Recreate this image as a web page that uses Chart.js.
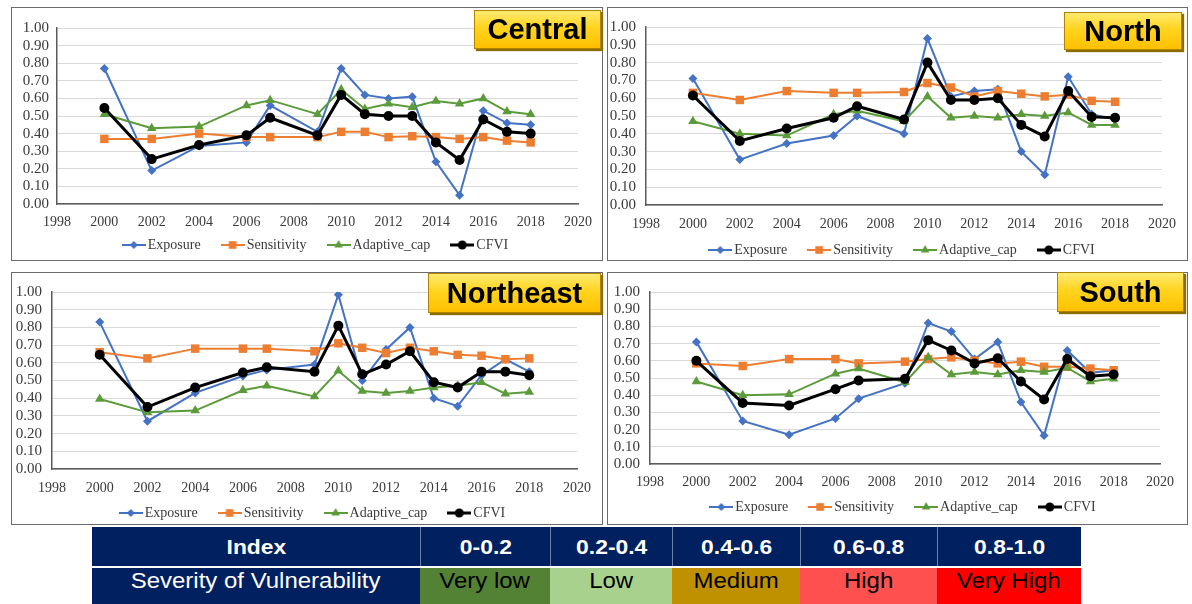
<!DOCTYPE html>
<html>
<head>
<meta charset="utf-8">
<script src="https://cdn.jsdelivr.net/npm/chart.js@4/dist/chart.umd.min.js"></script>
<style>
html,body{margin:0;padding:0;background:#fff;width:1192px;height:604px;overflow:hidden;position:relative;font-family:"Liberation Sans",Arial,sans-serif;}
.panel{position:absolute;border:1px solid #6b6b6b;box-sizing:border-box;}
canvas{position:absolute;}
.tag{position:absolute;box-sizing:border-box;border:1px solid #b08400;background:linear-gradient(#ffea70,#ffd41f 45%,#ffc000);box-shadow:2px 2px 1px #8d6c00;font:bold 29px "Liberation Sans",Arial,sans-serif;color:#000;display:flex;align-items:center;justify-content:center;}
.cell{position:absolute;box-sizing:border-box;display:flex;align-items:center;justify-content:center;white-space:nowrap;}
.cell span{display:inline-block;transform:scaleX(1.09);}
.hd{background:#002060;color:#fff;font:bold 21px "Liberation Sans",Arial,sans-serif;}
.r2{font:22px "Liberation Sans",Arial,sans-serif;color:#000;padding-bottom:10px;}
</style>
</head>
<body>
<div class="panel" style="left:11px;top:7px;width:592px;height:254px"></div>
<div class="panel" style="left:607px;top:7px;width:581px;height:254px"></div>
<div class="panel" style="left:11px;top:272px;width:592px;height:253px"></div>
<div class="panel" style="left:607px;top:272px;width:581px;height:253px"></div>
<canvas id="cCentral"></canvas>
<canvas id="cNorth"></canvas>
<canvas id="cNortheast"></canvas>
<canvas id="cSouth"></canvas>
<div class="tag" style="left:474px;top:10px;width:127px;height:39px">Central</div>
<div class="tag" style="left:1064px;top:12px;width:118px;height:38px">North</div>
<div class="tag" style="left:428px;top:273px;width:173px;height:40px">Northeast</div>
<div class="tag" style="left:1057px;top:272px;width:127px;height:40px">South</div>
<div id="tbl"></div>
<script>
// ---------------- data ----------------
const years = [2000, 2002, 2004, 2006, 2007, 2009, 2010, 2011, 2012, 2013, 2014, 2015, 2016, 2017, 2018];
const seriesNames = ['Exposure', 'Sensitivity', 'Adaptive_cap', 'CFVI'];
const xTickLabels = [1998, 2000, 2002, 2004, 2006, 2008, 2010, 2012, 2014, 2016, 2018, 2020];
const yTickLabels = ['0.00','0.10','0.20','0.30','0.40','0.50','0.60','0.70','0.80','0.90','1.00'];

const centralExposure    = [0.77, 0.19, 0.33, 0.35, 0.56, 0.41, 0.77, 0.62, 0.60, 0.61, 0.24, 0.05, 0.53, 0.46, 0.45];
const centralSensitivity = [0.37, 0.37, 0.40, 0.38, 0.38, 0.38, 0.41, 0.41, 0.38, 0.385, 0.38, 0.37, 0.38, 0.36, 0.35];
const centralAdaptive    = [0.51, 0.43, 0.44, 0.56, 0.59, 0.51, 0.65, 0.54, 0.57, 0.55, 0.585, 0.57, 0.60, 0.525, 0.51];
const centralCFVI        = [0.545, 0.255, 0.335, 0.39, 0.49, 0.39, 0.62, 0.51, 0.50, 0.50, 0.35, 0.25, 0.48, 0.41, 0.40];

const northExposure    = [0.71, 0.255, 0.345, 0.39, 0.50, 0.40, 0.935, 0.61, 0.64, 0.65, 0.30, 0.17, 0.72, 0.51, 0.48];
const northSensitivity = [0.63, 0.59, 0.64, 0.63, 0.63, 0.635, 0.685, 0.66, 0.61, 0.64, 0.625, 0.61, 0.62, 0.585, 0.58];
const northAdaptive    = [0.47, 0.40, 0.39, 0.51, 0.53, 0.47, 0.61, 0.49, 0.50, 0.49, 0.51, 0.50, 0.52, 0.45, 0.45];
const northCFVI        = [0.615, 0.36, 0.43, 0.49, 0.555, 0.48, 0.80, 0.59, 0.59, 0.60, 0.45, 0.385, 0.64, 0.495, 0.49];

const northeastExposure    = [0.83, 0.27, 0.43, 0.525, 0.56, 0.59, 0.985, 0.50, 0.675, 0.80, 0.40, 0.355, 0.53, 0.62, 0.55];
const northeastSensitivity = [0.66, 0.625, 0.68, 0.68, 0.68, 0.665, 0.71, 0.685, 0.655, 0.685, 0.665, 0.645, 0.64, 0.62, 0.625];
const northeastAdaptive    = [0.395, 0.32, 0.33, 0.445, 0.47, 0.41, 0.555, 0.44, 0.43, 0.44, 0.46, 0.47, 0.49, 0.425, 0.435];
const northeastCFVI        = [0.645, 0.35, 0.46, 0.545, 0.575, 0.55, 0.81, 0.535, 0.59, 0.665, 0.49, 0.46, 0.55, 0.55, 0.53];

const southExposure    = [0.71, 0.25, 0.17, 0.265, 0.38, 0.47, 0.82, 0.77, 0.61, 0.71, 0.36, 0.165, 0.66, 0.53, 0.545];
const southSensitivity = [0.585, 0.57, 0.61, 0.61, 0.585, 0.595, 0.61, 0.62, 0.60, 0.585, 0.595, 0.565, 0.565, 0.555, 0.545];
const southAdaptive    = [0.48, 0.40, 0.405, 0.525, 0.555, 0.475, 0.62, 0.52, 0.535, 0.52, 0.545, 0.535, 0.56, 0.48, 0.495];
const southCFVI        = [0.60, 0.355, 0.34, 0.435, 0.485, 0.495, 0.72, 0.66, 0.585, 0.615, 0.48, 0.375, 0.61, 0.51, 0.52];

const tableHeader = ['Index', '0-0.2', '0.2-0.4', '0.4-0.6', '0.6-0.8', '0.8-1.0'];
const tableRow    = ['Severity of Vulnerability', 'Very low', 'Low', 'Medium', 'High', 'Very High'];

// ---------------- styles ----------------
const seriesColors = ['#4472C4', '#ED7D31', '#5B9B3A', '#000000'];
const seriesMarkers = ['rectRot', 'rect', 'triangle', 'circle'];
const markerRadius = [4.5, 6, 5.5, 5];
const lineWidths = [2, 2, 2, 3];
const textColor = '#3a3a3a';
const serif = '"Liberation Serif", "Times New Roman", serif';

function makeIcon(i) {
  const c = document.createElement('canvas');
  c.width = 24; c.height = 12;
  const g = c.getContext('2d');
  g.strokeStyle = seriesColors[i];
  g.fillStyle = seriesColors[i];
  g.lineWidth = lineWidths[i];
  g.beginPath(); g.moveTo(0, 6); g.lineTo(24, 6); g.stroke();
  const cx = 12, cy = 6, r = markerRadius[i] * 0.9;
  g.beginPath();
  if (seriesMarkers[i] === 'rectRot') {
    g.moveTo(cx, cy - r); g.lineTo(cx + r, cy); g.lineTo(cx, cy + r); g.lineTo(cx - r, cy); g.closePath();
  } else if (seriesMarkers[i] === 'rect') {
    const s = r * Math.SQRT1_2; g.rect(cx - s, cy - s, 2 * s, 2 * s);
  } else if (seriesMarkers[i] === 'triangle') {
    g.moveTo(cx, cy - r); g.lineTo(cx + r * 0.87, cy + r * 0.5); g.lineTo(cx - r * 0.87, cy + r * 0.5); g.closePath();
  } else {
    g.arc(cx, cy, r, 0, Math.PI * 2);
  }
  g.fill();
  return c;
}
const icons = [0, 1, 2, 3].map(makeIcon);

// ---------------- geometry (layout only) ----------------
const panels = [
  { id: 'cCentral', series: [centralExposure, centralSensitivity, centralAdaptive, centralCFVI],
    cx: 12, cy: 8, cw: 590, areaLeft: 57, areaRight: 582, areaTop: 28, areaBottom: 204, xLabelY: 221, legendY: 245, yPad: 8 },
  { id: 'cNorth', series: [northExposure, northSensitivity, northAdaptive, northCFVI],
    cx: 608, cy: 8, cw: 579, areaLeft: 646, areaRight: 1165, areaTop: 18, areaBottom: 205, xLabelY: 223, legendY: 250, yPad: 10 },
  { id: 'cNortheast', series: [northeastExposure, northeastSensitivity, northeastAdaptive, northeastCFVI],
    cx: 12, cy: 273, cw: 590, areaLeft: 52, areaRight: 578, areaTop: 288, areaBottom: 469, xLabelY: 487, legendY: 513, yPad: 10 },
  { id: 'cSouth', series: [southExposure, southSensitivity, southAdaptive, southCFVI],
    cx: 608, cy: 273, cw: 579, areaLeft: 650, areaRight: 1160, areaTop: 286, areaBottom: 464, xLabelY: 481, legendY: 507, yPad: 10 }
];

const LEG_PAD = 25, FONT = 14, YFONT = 15;

panels.forEach(p => {
  const legendH = FONT + LEG_PAD + 10;
  const xHeight = p.xLabelY - p.areaBottom + 12;
  const ch = (p.areaBottom - p.cy) + xHeight + legendH;
  const canvas = document.getElementById(p.id);
  canvas.style.left = p.cx + 'px';
  canvas.style.top = p.cy + 'px';
  canvas.style.width = p.cw + 'px';
  canvas.style.height = ch + 'px';
  canvas.width = p.cw; canvas.height = ch;
  const yWidth = p.areaLeft - p.cx;
  const padRight = p.cx + p.cw - p.areaRight;
  const padTop = p.areaTop - p.cy;
  const legendTop = p.legendY - p.cy - (LEG_PAD + FONT / 2);

  const datasets = p.series.map((vals, i) => ({
    label: seriesNames[i],
    data: years.map((yr, k) => ({ x: yr, y: vals[k] })),
    borderColor: seriesColors[i],
    backgroundColor: seriesColors[i],
    pointBackgroundColor: seriesColors[i],
    pointBorderColor: seriesColors[i],
    pointStyle: seriesMarkers[i],
    pointRadius: markerRadius[i],
    pointBorderWidth: 0,
    borderWidth: lineWidths[i],
    tension: 0,
    order: 4 - i
  }));

  new Chart(canvas, {
    type: 'line',
    data: { datasets },
    plugins: [{
      id: 'legendPlace',
      beforeDraw(chart) {
        const lg = chart.legend;
        const h = lg.height;
        lg.top = legendTop;
        lg.bottom = legendTop + h;
      }
    }],
    options: {
      responsive: false,
      animation: false,
      devicePixelRatio: 1,
      layout: { padding: { left: 0, right: padRight, top: padTop, bottom: 0 } },
      plugins: {
        tooltip: { enabled: false },
        legend: {
          position: 'bottom',
          fullSize: false,
          align: 'center',
          labels: {
            usePointStyle: true,
            padding: LEG_PAD,
            color: textColor,
            font: { family: serif, size: FONT },
            sort: (a, b) => a.datasetIndex - b.datasetIndex,
            generateLabels(chart) {
              const items = Chart.defaults.plugins.legend.labels.generateLabels(chart);
              items.forEach(it => { it.pointStyle = icons[it.datasetIndex]; });
              return items;
            }
          }
        }
      },
      scales: {
        x: {
          type: 'linear',
          min: xTickLabels[0],
          max: xTickLabels[xTickLabels.length - 1],
          afterBuildTicks: s => { s.ticks = xTickLabels.map(v => ({ value: v })); },
          afterFit: s => { s.height = xHeight; },
          grid: { display: false, drawTicks: false },
          border: { display: true, color: '#5a5a5a', width: 1.5 },
          ticks: {
            padding: p.xLabelY - p.areaBottom - 7,
            color: textColor,
            font: { family: serif, size: FONT },
            maxRotation: 0, autoSkip: false,
            callback: v => String(v)
          }
        },
        y: {
          min: 0, max: 1,
          afterBuildTicks: s => { s.ticks = yTickLabels.map(t => ({ value: parseFloat(t) })); },
          afterFit: s => { s.width = yWidth; },
          grid: { color: '#d9d9d9', lineWidth: 1, drawTicks: false },
          border: { display: true, color: '#5a5a5a', width: 1.5 },
          ticks: {
            padding: p.yPad,
            color: textColor,
            font: { family: serif, size: YFONT },
            autoSkip: false,
            callback: v => yTickLabels[Math.round(v * 10)]
          }
        }
      }
    }
  });
});

// ---------------- table ----------------
const colEdges = [92, 420, 550, 672, 800, 937, 1081];
const rowColors = ['#002060', '#548235', '#A9D18E', '#BF9000', '#FF5050', '#FF0000'];
const tbl = document.getElementById('tbl');
function addCell(text, cls, i, top, h, bg, color, border) {
  const d = document.createElement('div');
  d.className = 'cell ' + cls;
  d.style.left = colEdges[i] + 'px';
  d.style.top = top + 'px';
  d.style.width = (colEdges[i + 1] - colEdges[i]) + 'px';
  d.style.height = h + 'px';
  if (bg) d.style.background = bg;
  if (color) d.style.color = color;
  if (border) d.style.borderLeft = border;
  const s = document.createElement('span');
  s.textContent = text;
  d.appendChild(s);
  tbl.appendChild(d);
}
tableHeader.forEach((t, i) => addCell(t, 'hd', i, 527, 39, null, null, i > 0 ? '1px solid #6f7fa6' : null));
tableRow.forEach((t, i) => addCell(t, 'r2', i, 568, 36, rowColors[i], i === 0 ? '#fff' : null, null));
</script>
</body>
</html>
